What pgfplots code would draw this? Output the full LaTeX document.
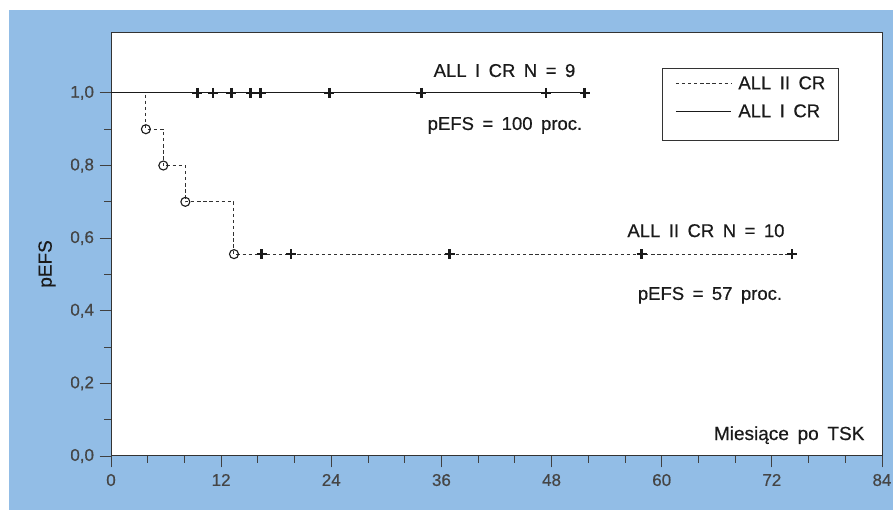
\documentclass[border=0pt]{standalone}
\usepackage{pgfplots}
\pgfplotsset{compat=1.18}
\usepackage{fontspec}
\setmainfont{Liberation Sans}[WordSpace=1.65, FakeBold=0.5]
\definecolor{bgblue}{RGB}{146,189,230}
\definecolor{ink}{HTML}{1A1A1A}
\definecolor{tickgray}{HTML}{454545}
\begin{document}
\begin{tikzpicture}[x=1pt,y=1pt]
\path[use as bounding box] (0,0) rectangle (893,510);
\fill[white] (0,0) rectangle (893,510);
\fill[bgblue] (9,0) rectangle (893,500);
\begin{axis}[
  at={(111pt,54pt)}, anchor=south west,
  scale only axis, width=771pt, height=423pt,
  xmin=0, xmax=84, ymin=0, ymax=1.165,
  axis background/.style={fill=white},
  axis line style={draw=black!80, line width=1pt},
  xtick={0,12,...,84},
  minor xtick={4,8,16,20,28,32,40,44,52,56,64,68,76,80},
  ytick={0,0.2,0.4,0.6,0.8,1.0},
  minor ytick={0.1,0.3,0.5,0.7,0.9},
  tick align=outside, xtick pos=bottom, ytick pos=left,
  major tick length=11.5pt, minor tick length=7pt,
  tick style={draw=black!75, line width=0.9pt},
  /pgf/number format/assume math mode=true,
  ticklabel style={font=\fontsize{17}{20}\selectfont, text=tickgray},
  xticklabel style={yshift=-3pt},
  yticklabel style={xshift=-2pt, /pgf/number format/fixed, /pgf/number format/fixed zerofill, /pgf/number format/precision=1, /pgf/number format/use comma},
  ylabel={pEFS},
  ylabel style={at={(axis description cs:-0.083,0.454)}, anchor=center, rotate=0, font=\fontsize{19}{22}\selectfont, text=ink},
  legend image code/.code={\draw[#1] (0pt,6.5pt) -- (55pt,6.5pt);},
  legend style={at={(axis cs:60.03,1.069)}, anchor=north west, draw=black!80, line width=0.8pt, fill=white,
    inner xsep=13pt, inner ysep=8pt, font=\fontsize{18.5}{21}\selectfont, text=ink,
    nodes={inner sep=0pt, text height=13pt, text depth=15pt},
    /tikz/every odd column/.append style={column sep=7pt}},
  legend cell align=left,
  clip=false,
]
% ALL II CR (dashed step curve)
\addplot[ink!90, line width=1pt, dash pattern=on 3.3pt off 2.8pt] coordinates {
  (0,1) (3.8,1) (3.8,0.9) (5.7,0.9) (5.7,0.8) (8.1,0.8) (8.1,0.7) (13.4,0.7) (13.4,0.556) (74.2,0.556)};
\addlegendentry{ALL II CR}
% ALL I CR (solid)
\addplot[ink, line width=1pt] coordinates {(0,1) (51.7,1)};
\addlegendentry{ALL I CR}
% events (open circles)
\addplot[forget plot, only marks, mark=o, mark size=4.5pt, mark options={fill=white, draw=ink, line width=1.1pt, solid}] coordinates {
  (3.8,0.9) (5.7,0.8) (8.1,0.7) (13.4,0.556)};
% censored ALL II CR
\addplot[forget plot, only marks, mark=+, mark size=5pt, mark options={draw=ink, line width=2.6pt, solid}] coordinates {
  (16.4,0.556) (19.6,0.556) (36.9,0.556) (57.8,0.556) (74.2,0.556)};
% censored ALL I CR
\addplot[forget plot, only marks, mark=+, mark size=5pt, mark options={draw=ink, line width=2.6pt, solid}] coordinates {
  (9.4,1) (11.1,1) (13.1,1) (15.2,1) (16.3,1) (23.8,1) (33.8,1) (47.4,1) (51.6,1)};
\node[anchor=base, font=\fontsize{18.5}{21}\selectfont, text=ink] at (axis cs:42.87,1.044) {ALL I CR N = 9};
\node[anchor=base, font=\fontsize{18.5}{21}\selectfont, text=ink] at (axis cs:42.92,0.898) {pEFS = 100 proc.};
\node[anchor=base, font=\fontsize{18.5}{21}\selectfont, text=ink] at (axis cs:64.82,0.603) {ALL II CR N = 10};
\node[anchor=base, font=\fontsize{18.5}{21}\selectfont, text=ink] at (axis cs:65.26,0.430) {pEFS = 57 proc.};
\node[anchor=base east, font=\fontsize{19}{22}\selectfont, text=ink] at (axis cs:82.47,0.044) {Miesiące po TSK};
\end{axis}
\end{tikzpicture}
\end{document}
